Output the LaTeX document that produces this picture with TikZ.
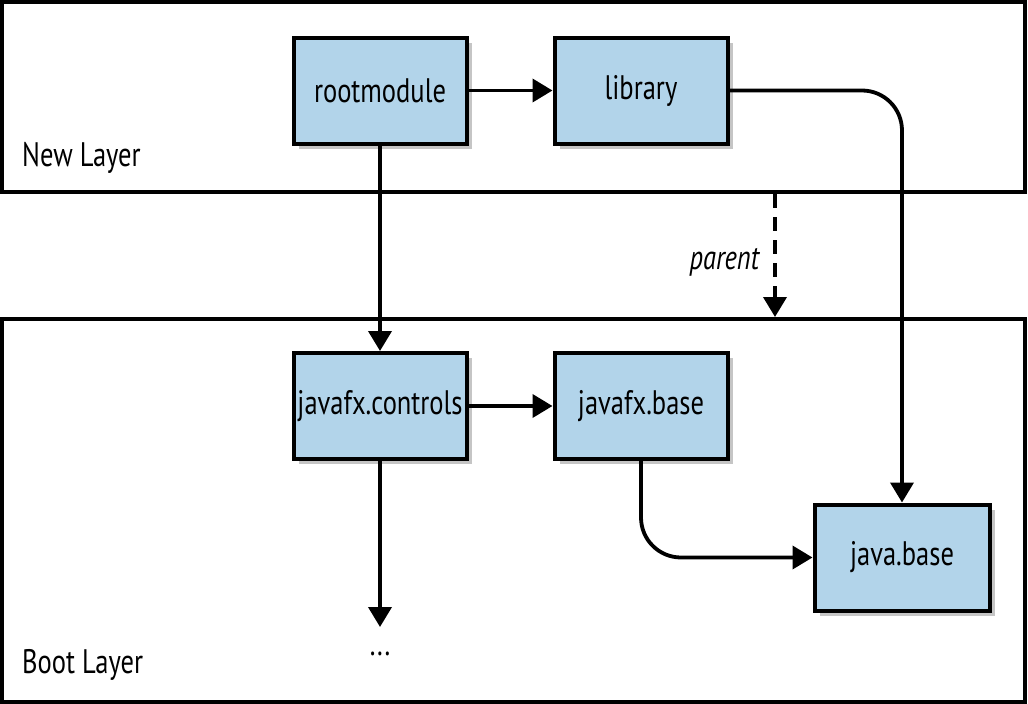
\documentclass[tikz,border=0pt]{standalone}
\usepackage{fontspec}
\setmainfont{PT Sans}[FakeStretch=0.78]
\usetikzlibrary{arrows.meta,shadows,calc}
\definecolor{boxblue}{RGB}{178,212,234}
\tikzset{
  layerbox/.style={draw=black, line width=4pt, fill=white, inner sep=0pt},
  modbox/.style={draw=black, line width=4pt, fill=boxblue, inner sep=0pt,
    minimum width=173pt, minimum height=106pt, font=\fontsize{34}{40}\selectfont,
    drop shadow={shadow xshift=5pt, shadow yshift=-5pt, fill=black!45, opacity=0.5}},
  lbl/.style={font=\fontsize{34}{40}\selectfont, inner sep=0pt},
  arr/.style={line width=3.8pt, -{Triangle[length=20pt,width=23pt]}},
}
\begin{document}
\begin{tikzpicture}[x=1pt,y=-1pt]
\useasboundingbox (0,0) rectangle (1028,704);
\node[layerbox, minimum width=1023pt, minimum height=190pt] (newlayer) at (513.5,97) {};
\node[layerbox, minimum width=1023pt, minimum height=383pt] (bootlayer) at (513.5,510.5) {};
\node[lbl, anchor=west] (newlbl) at (22,158) {New Layer};
\node[lbl, anchor=west] (bootlbl) at (22,665) {Boot Layer};

\node[modbox] (root) at (380,90.5) {rootmodule};
\node[modbox] (library) at (641,90.5) {library};
\node[modbox] (controls) at (380,406) {javafx.controls};
\node[modbox] (fxbase) at (641,406) {javafx.base};
\node[modbox, minimum width=175pt] (javabase) at (902,557.5) {java.base};
\node[lbl] (dots) at (380,654) {...};
\coordinate (dotstop) at (380,627);
\coordinate (px) at (775,0);

\draw[arr] (root) -- (library);
\draw[arr] (root) -- (controls);
\draw[arr] (controls) -- (fxbase);
\draw[arr] (controls) -- (dotstop);
\draw[arr, rounded corners=40pt] (library.east) -| (javabase.north);
\draw[arr, rounded corners=40pt] (fxbase.south) |- (javabase.west);
\draw[arr, dash pattern=on 14pt off 9pt] (newlayer.south -| px) -- (bootlayer.north -| px)
  node[lbl, midway, left=14pt, yshift=-7pt, font=\fontsize{34}{40}\selectfont\itshape] (parentlbl) {parent};
\end{tikzpicture}
\end{document}
